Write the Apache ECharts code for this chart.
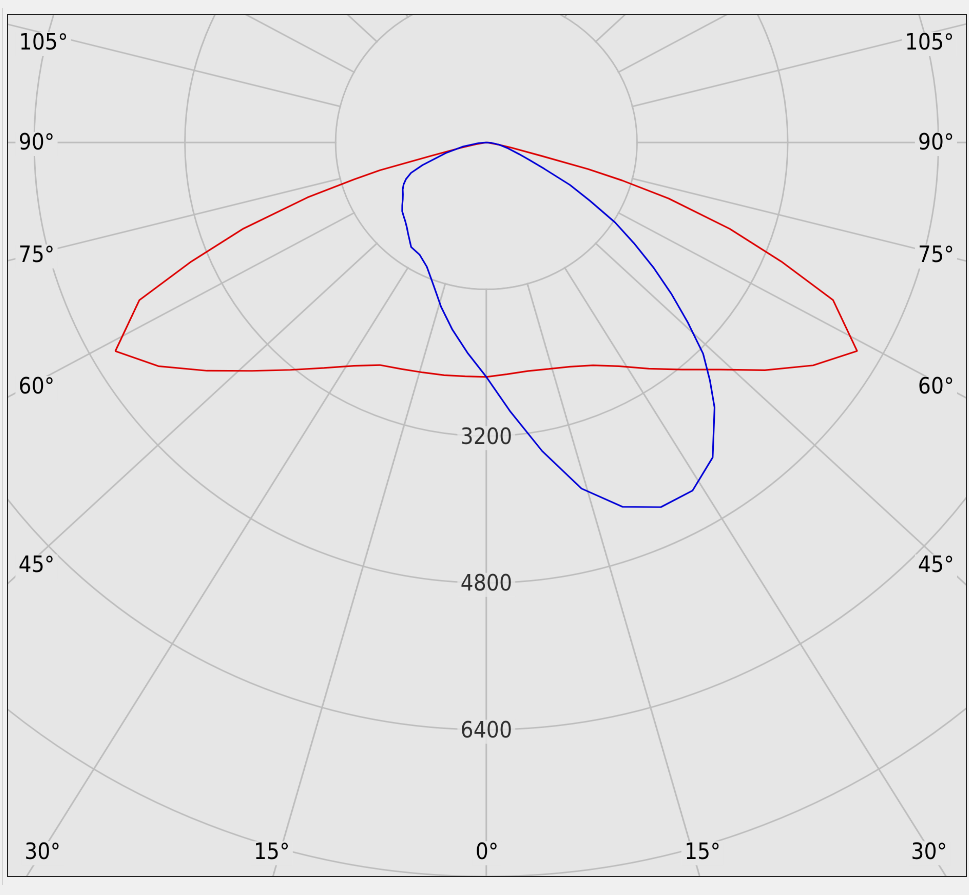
<!DOCTYPE html>
<html>
<head>
<meta charset="utf-8">
<script src="https://cdn.jsdelivr.net/npm/echarts@6/dist/echarts.min.js"></script>
<style>
  html, body { margin: 0; padding: 0; }
  body { width: 969px; height: 895px; overflow: hidden; position: relative; background: #f0f0f0; }
  #edge { position: absolute; left: 2px; top: 8px; width: 1px; height: 877px; background: #d2d2d2; }
  #frame { position: absolute; left: 7px; top: 14px; width: 958px; height: 861px;
           border: 1px solid #1c1c1c; background: #e6e6e6; overflow: hidden; }
  #spokes { position: absolute; left: 0; top: 0; width: 884px; height: 861px;
            transform: scaleX(1.085); transform-origin: 0 0; }
  #main { position: absolute; left: 0; top: 0; width: 934px; height: 861px;
          transform: scaleX(1.0266); transform-origin: 0 0; }
</style>
</head>
<body>
<div id="edge"></div>
<div id="frame">
  <div id="spokes"></div>
  <div id="main"></div>
</div>
<script>
// ---- data: gamma angle from nadir (deg) and luminous intensity values ----
const redGamma  = [0, 5, 10, 15, 20, 25, 30, 35, 40, 45, 50, 55, 60, 65, 67.5, 70, 72.5, 74, 75, 76, 78, 80, 85, 90];
const redLeft   = [2555, 2558, 2575, 2595, 2628, 2676, 2810, 3000, 3235, 3520, 3870, 4250, 4548, 4064, 3390, 2744, 1990, 1460, 1170, 610, 280, 110, 20, 0];
const redRight  = [2555, 2535, 2530, 2555, 2600, 2680, 2815, 3010, 3230, 3500, 3860, 4235, 4546, 4061, 3390, 2750, 2030, 1500, 1120, 600, 270, 120, 20, 0];
const blueGamma = [0, 5, 10, 15, 20, 25, 30, 35, 40, 42.5, 45, 47.5, 50, 52.5, 55, 57.5, 60, 62.5, 65, 67.5, 70, 75, 80, 85, 90];
const blueLeft  = [2555, 2300, 2072, 1855, 1647, 1494, 1414, 1391, 1293, 1250, 1216, 1190, 1166, 1125, 1083, 1050, 1025, 990, 940, 865, 720, 445, 250, 90, 0];
const blueRight = [2555, 2946, 3415, 3905, 4225, 4385, 4380, 4190, 3770, 3513, 3255, 2900, 2563, 2235, 1913, 1620, 1270, 1000, 680, 490, 370, 230, 140, 60, 0];
const radiusTickLabels  = [3200, 4800, 6400];
const sideAngleLabels   = ['105°', '90°', '75°', '60°', '45°'];
const bottomAngleLabels = ['30°', '15°', '0°', '15°', '30°'];

// ---- layout ----
const SX_MAIN = 1.0266, SX_SPOKE = 1.085;
const CENTER_PAGE_X = 486.3 - 8, CENTER_Y = 127.5;
const PX_PER_1600 = 146.8;
const RMAX = 9600;
const FONT_FAMILY = '"DejaVu Sans Condensed", "Liberation Sans", Arial, sans-serif';
const FONT_SIZE = 22;
const FONT = FONT_SIZE + 'px ' + FONT_FAMILY;
const GRID = '#bdbdbd';
const BG = '#e6e6e6';

function polarLine(gamma, leftVals, rightVals) {
  const pts = [];
  for (let i = gamma.length - 1; i >= 1; i--) pts.push([leftVals[i], 360 - gamma[i]]);
  for (let i = 0; i < gamma.length; i++) pts.push([rightVals[i], gamma[i]]);
  return pts;
}
const hiddenAxisParts = { axisLine: { show: false }, axisTick: { show: false }, axisLabel: { show: false } };

// ---- spokes layer ----
const spokes = echarts.init(document.getElementById('spokes'), null, { devicePixelRatio: 2 });
spokes.setOption({
  backgroundColor: 'transparent',
  animation: false,
  polar: { center: [CENTER_PAGE_X / SX_SPOKE, CENTER_Y], radius: [60, 1100] },
  angleAxis: Object.assign({
    type: 'value', min: 0, max: 360, interval: 15, startAngle: 270, clockwise: false,
    splitLine: { show: true, lineStyle: { color: GRID, width: 1.5 } }
  }, hiddenAxisParts),
  radiusAxis: Object.assign({ type: 'value', min: 0, max: 1, splitLine: { show: false } }, hiddenAxisParts),
  series: [{ type: 'line', coordinateSystem: 'polar', data: [], symbol: 'none' }]
});

// ---- main layer ----
const mainX = (px) => (px - 8) / SX_MAIN;
const textEl = (text, x, y) => ({
  type: 'text', z: 100, silent: true,
  style: { text, x: mainX(x), y: y - 15, align: 'center', verticalAlign: 'middle',
           font: FONT, fill: '#000', backgroundColor: BG, padding: [1, 3] }
});
const sideY = [44, 144, 256.5, 388, 566.5];
const bottomX = [42.5, 271.7, 487, 702.5, 929];
const graphics = [];
sideAngleLabels.forEach((t, i) => {
  graphics.push(textEl(t, t.length > 3 ? 43.5 : 36.5, sideY[i]));
  graphics.push(textEl(t, t.length > 3 ? 929.5 : 936, sideY[i]));
});
bottomAngleLabels.forEach((t, i) => graphics.push(textEl(t, bottomX[i], 853.3)));

const center = [CENTER_PAGE_X / SX_MAIN, CENTER_Y];
const main = echarts.init(document.getElementById('main'), null, { devicePixelRatio: 2 });
main.setOption({
  backgroundColor: 'transparent',
  animation: false,
  polar: [
    { center, radius: [0, PX_PER_1600 * RMAX / 1600] },
    { center, radius: [0, PX_PER_1600 - 0.9] }   // inner disk mask (hides spokes inside first ring)
  ],
  angleAxis: [
    Object.assign({ polarIndex: 0, type: 'value', min: 0, max: 360, startAngle: 270, clockwise: false, splitLine: { show: false } }, hiddenAxisParts),
    Object.assign({ polarIndex: 1, type: 'value', min: 0, max: 360, startAngle: 270, clockwise: false, splitLine: { show: false } }, hiddenAxisParts)
  ],
  radiusAxis: [
    Object.assign({ polarIndex: 0, type: 'value', min: 0, max: RMAX, interval: 1600,
      splitLine: { show: true, lineStyle: { color: GRID, width: 1.5 } } }, hiddenAxisParts),
    Object.assign({ polarIndex: 1, type: 'value', min: 0, max: 1, interval: 1,
      splitLine: { show: false }, splitArea: { show: true, areaStyle: { color: [BG] } } }, hiddenAxisParts)
  ],
  series: [
    { type: 'line', coordinateSystem: 'polar', polarIndex: 0, data: polarLine(redGamma, redLeft, redRight),
      symbol: 'none', lineStyle: { color: '#dc0000', width: 1.6 }, z: 5 },
    { type: 'line', coordinateSystem: 'polar', polarIndex: 0, data: polarLine(blueGamma, blueLeft, blueRight),
      symbol: 'none', lineStyle: { color: '#0000d6', width: 1.6 }, z: 6 },
    { type: 'scatter', coordinateSystem: 'polar', polarIndex: 0, data: radiusTickLabels.map(v => [v, 0]),
      symbolSize: 0, z: 20, silent: true,
      label: { show: true, position: 'inside', offset: [0, 2], formatter: p => String(p.value[0]),
               fontSize: FONT_SIZE, fontFamily: FONT_FAMILY, color: '#000',
               backgroundColor: BG, padding: [1, 3] } }
  ],
  graphic: graphics
});
</script>
</body>
</html>
